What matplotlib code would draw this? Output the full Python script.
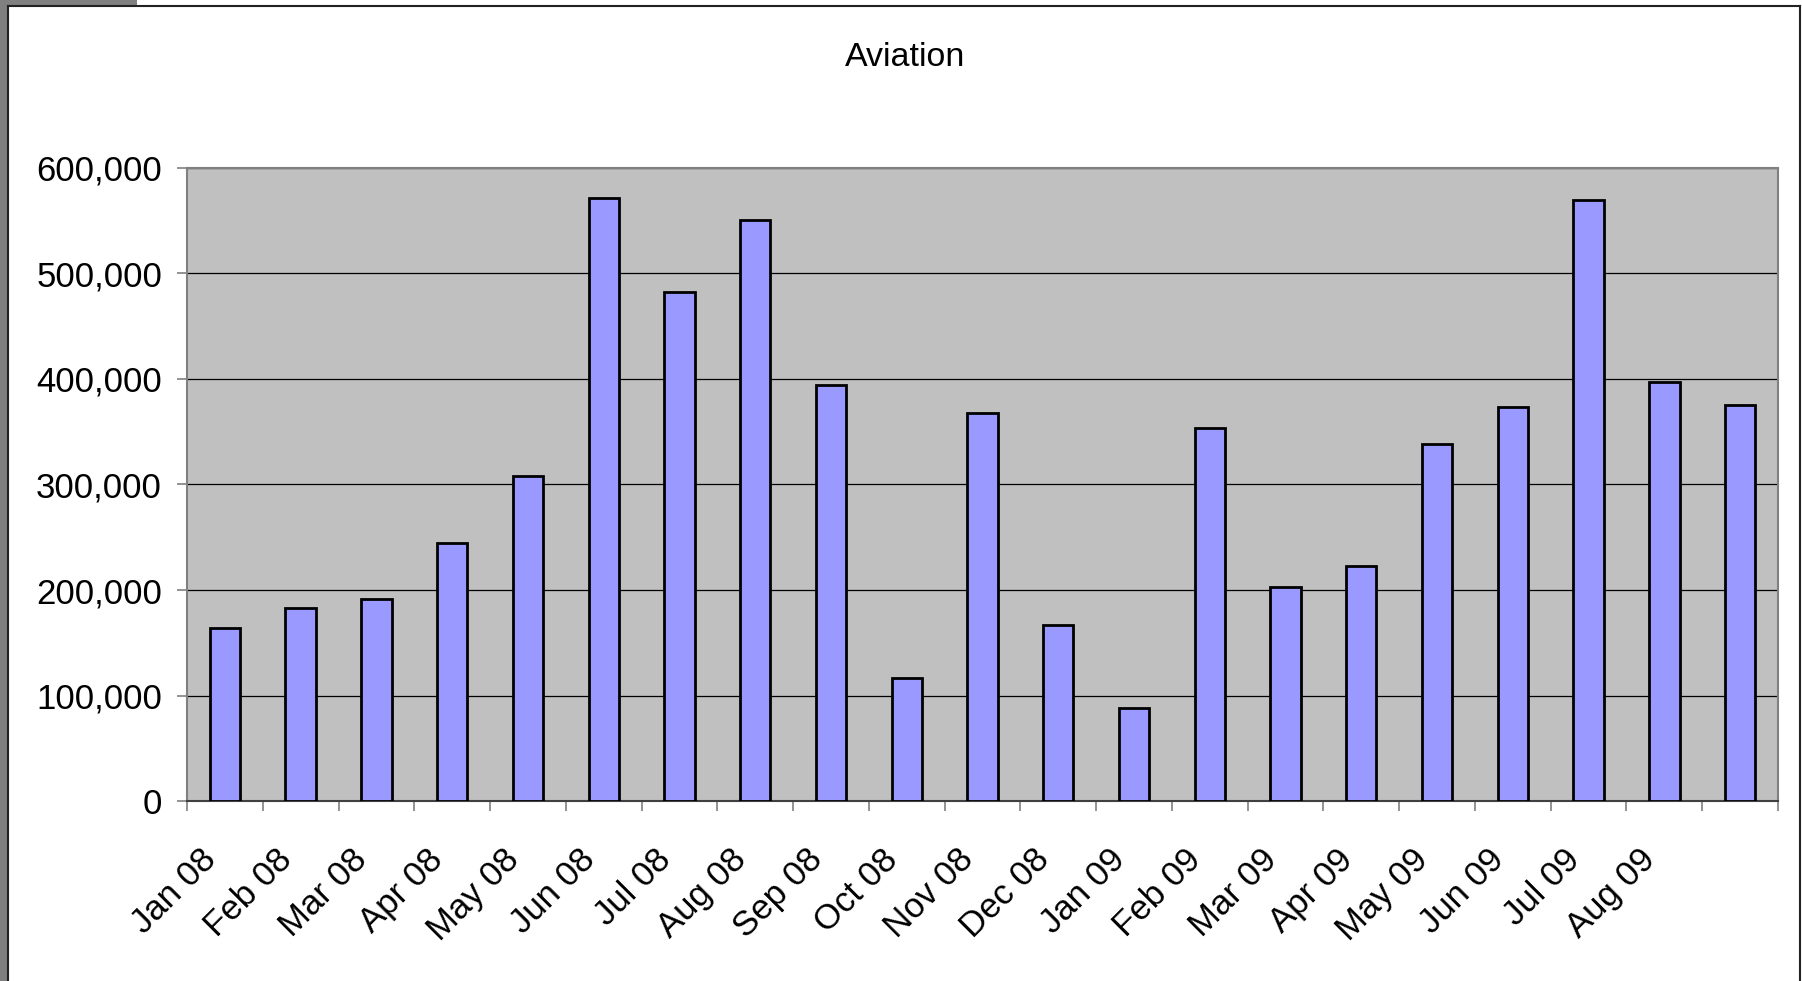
import matplotlib
matplotlib.use('Agg')
import matplotlib.pyplot as plt
from matplotlib.patches import Rectangle
from matplotlib.lines import Line2D
from matplotlib.ticker import FuncFormatter, FixedLocator
import matplotlib.transforms as mtransforms
import numpy as np

plt.rcParams['font.family'] = ['Liberation Sans', 'DejaVu Sans']

# categories (the last month has no label in the original chart)
months = ['Jan 08', 'Feb 08', 'Mar 08', 'Apr 08', 'May 08', 'Jun 08', 'Jul 08',
          'Aug 08', 'Sep 08', 'Oct 08', 'Nov 08', 'Dec 08', 'Jan 09', 'Feb 09',
          'Mar 09', 'Apr 09', 'May 09', 'Jun 09', 'Jul 09', 'Aug 09', 'Sep 09']
tick_labels = months[:-1] + ['']
aviation = [164000, 183000, 191000, 245000, 308000, 572000, 482000,
            551000, 394000, 117000, 368000, 167000, 88000, 354000,
            203000, 223000, 338000, 373000, 570000, 397000, 375000]
yticks = [0, 100000, 200000, 300000, 400000, 500000, 600000]

W, H = 1802, 981
fig = plt.figure(figsize=(W / 100, H / 100), dpi=100)
fig.patch.set_facecolor('white')

# window frame around the chart (screenshot look)
fig.add_artist(Rectangle((0, 0), 7 / W, 1, transform=fig.transFigure,
                         facecolor='#808080', edgecolor='none'))
fig.add_artist(Rectangle((0, 1 - 5 / H), 137 / W, 5 / H, transform=fig.transFigure,
                         facecolor='#808080', edgecolor='none'))
fig.add_artist(Line2D([7.5 / W, 7.5 / W], [0, 1 - 5.5 / H], transform=fig.transFigure,
                      color='#222222', lw=1.5))
fig.add_artist(Line2D([7.5 / W, 1800 / W], [1 - 5.5 / H, 1 - 5.5 / H], transform=fig.transFigure,
                      color='#222222', lw=1.5))
fig.add_artist(Line2D([1800 / W, 1800 / W], [0, 1 - 5.5 / H], transform=fig.transFigure,
                      color='#222222', lw=1.5))

ax = fig.add_axes([187 / W, 1 - 801 / H, (1778 - 187) / W, (801 - 168) / H])
ax.set_facecolor('#C0C0C0')

x = np.arange(len(months))
ax.set_axisbelow(True)
ax.yaxis.grid(True, color='black', linewidth=0.9)
ax.bar(x, aviation, width=0.4, color='#9999FF', edgecolor='black', linewidth=2.0, zorder=3)

ax.set_xlim(-0.5, len(months) - 0.5)
ax.set_ylim(0, 600000)

ax.set_yticks(yticks)
ax.yaxis.set_major_formatter(FuncFormatter(lambda v, p: '{:,.0f}'.format(v)))
ax.tick_params(axis='y', direction='out', length=7, width=1.2, color='#808080',
               labelsize=25, pad=11)

ax.set_xticks(x)
ax.set_xticklabels(tick_labels)
ax.xaxis.set_minor_locator(FixedLocator(np.arange(len(months) + 1) - 0.5))
ax.tick_params(axis='x', which='major', length=0, labelsize=25, pad=43)
ax.tick_params(axis='x', which='minor', direction='out', length=7.5, width=1.2, color='#808080')
shift = mtransforms.ScaledTranslation(-14 / 100, 6 / 100, fig.dpi_scale_trans)
for lab in ax.get_xticklabels():
    lab.set_rotation(45)
    lab.set_ha('right')
    lab.set_va('center')
    lab.set_rotation_mode('anchor')
    lab.set_transform(lab.get_transform() + shift)

for side in ['left', 'top', 'right']:
    ax.spines[side].set_color('#808080')
    ax.spines[side].set_linewidth(1.5)
ax.spines['bottom'].set_color('#404040')
ax.spines['bottom'].set_linewidth(1.5)

fig.text(905 / W, 1 - 57 / H, 'Aviation', ha='center', va='center', fontsize=24.5)

fig.savefig('out.png', dpi=100)
